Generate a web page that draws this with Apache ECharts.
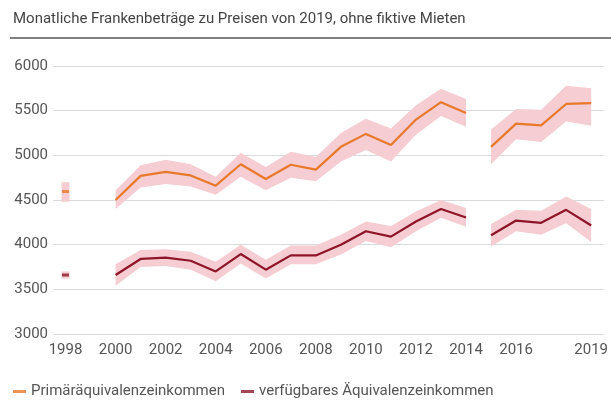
<!DOCTYPE html>
<html>
<head>
<meta charset="utf-8">
<script src="https://cdn.jsdelivr.net/npm/echarts@6/dist/echarts.min.js"></script>
<style>
  html, body { margin: 0; padding: 0; background: #fff; }
  #main { width: 611px; height: 407px; }
</style>
</head>
<body>
<div id="main"></div>
<script>
// Jahre auf der x-Achse
const years = []
for (let y = 1998; y <= 2019; y++) years.push(String(y))
const tickYears = ['1998', '2000', '2002', '2004', '2006', '2008', '2010', '2012', '2014', '2016', '2019']

// 1998 (einzelner Wert)
const prim1998 = 4595
const prim1998Low = 4480
const prim1998Up = 4700
const verf1998 = 3660
const verf1998Low = 3620
const verf1998Up = 3700

// Primäräquivalenzeinkommen 2000-2014
const primA = [4500, 4770, 4815, 4775, 4660, 4900, 4735, 4895, 4840, 5095, 5240, 5115, 5400, 5595, 5475]
const primLowA = [4400, 4640, 4680, 4650, 4560, 4760, 4610, 4750, 4710, 4930, 5060, 4930, 5230, 5440, 5320]
const primUpA = [4610, 4890, 4950, 4900, 4760, 5030, 4870, 5040, 4980, 5250, 5410, 5300, 5560, 5745, 5630]
// Primäräquivalenzeinkommen 2015-2019
const primB = [5095, 5355, 5335, 5575, 5585]
const primLowB = [4900, 5180, 5150, 5380, 5330]
const primUpB = [5290, 5520, 5510, 5780, 5750]

// verfügbares Äquivalenzeinkommen 2000-2014
const verfA = [3660, 3840, 3855, 3820, 3700, 3895, 3720, 3880, 3880, 4000, 4150, 4090, 4260, 4400, 4305]
const verfLowA = [3540, 3750, 3760, 3720, 3590, 3790, 3620, 3780, 3780, 3890, 4040, 3970, 4150, 4300, 4200]
const verfUpA = [3780, 3940, 3950, 3920, 3810, 4000, 3830, 3990, 3990, 4110, 4260, 4210, 4370, 4500, 4410]
// verfügbares Äquivalenzeinkommen 2015-2019
const verfB = [4105, 4270, 4245, 4390, 4215]
const verfLowB = [3980, 4150, 4110, 4240, 4030]
const verfUpB = [4230, 4390, 4380, 4540, 4400]

const orange = '#e8792a'
const darkRed = '#8e1528'
const pink = '#f5cdd3'
const primName = 'Primäräquivalenzeinkommen'
const verfName = 'verfügbares Äquivalenzeinkommen'

// Werte auf die ganze Jahresreihe legen
function place(start, values) {
  const out = years.map(() => null)
  values.forEach((v, i) => { out[years.indexOf(String(start + i))] = v })
  return out
}
function diff(up, low) {
  return up.map((u, i) => u - low[i])
}

function band(stack, start, low, up) {
  return [
    {
      type: 'line', stack: stack, data: place(start, low),
      symbol: 'none', lineStyle: { opacity: 0 }, silent: true, z: 1
    },
    {
      type: 'line', stack: stack, data: place(start, diff(up, low)),
      symbol: 'none', lineStyle: { opacity: 0 }, areaStyle: { color: pink, opacity: 1 }, silent: true, z: 1
    }
  ]
}
function line(name, color, start, values) {
  return {
    type: 'line', name: name, data: place(start, values), color: color,
    showSymbol: false, lineStyle: { width: 2.2, color: color }, z: 3
  }
}
function only1998(v) {
  return years.map(y => (y === '1998' ? v : null))
}

const myChart = echarts.init(document.getElementById('main'))
const option = {
  animation: false,
  title: {
    text: 'Monatliche Frankenbeträge zu Preisen von 2019, ohne fiktive Mieten',
    left: 8,
    top: 7,
    textStyle: { fontFamily: 'Roboto', fontSize: 15, fontWeight: 'normal', color: '#444' }
  },
  graphic: [
    {
      type: 'line',
      shape: { x1: 10, y1: 38, x2: 611, y2: 38 },
      style: { stroke: '#555', lineWidth: 1.5 }
    }
  ],
  legend: {
    data: [primName, verfName],
    left: 8,
    bottom: 3,
    icon: 'rect',
    itemWidth: 13,
    itemHeight: 3,
    itemGap: 16,
    textStyle: { fontFamily: 'Roboto', fontSize: 15, color: '#555' }
  },
  grid: {
    left: 53,
    right: 5,
    top: 66,
    bottom: 73
  },
  xAxis: {
    type: 'category',
    data: years,
    boundaryGap: true,
    axisLine: { show: false },
    axisTick: { show: false },
    axisLabel: {
      interval: (i, v) => tickYears.includes(v),
      margin: 9,
      fontFamily: 'Roboto',
      fontSize: 15,
      color: '#555'
    }
  },
  yAxis: {
    type: 'value',
    min: 3000,
    max: 6000,
    interval: 500,
    axisLine: { show: false },
    axisTick: { show: false },
    axisLabel: {
      margin: 5,
      fontFamily: 'Roboto',
      fontSize: 15,
      color: '#555',
      formatter: v => String(v)
    },
    splitLine: { lineStyle: { color: '#d9d9d9', width: 1 } }
  },
  series: [
    ...band('pA', 2000, primLowA, primUpA),
    ...band('pB', 2015, primLowB, primUpB),
    ...band('vA', 2000, verfLowA, verfUpA),
    ...band('vB', 2015, verfLowB, verfUpB),
    // 1998: Bereich als gestapelte Balken
    { type: 'bar', stack: 'b98', data: only1998(verf1998Low), barWidth: 8, itemStyle: { color: 'transparent' }, silent: true, z: 1 },
    { type: 'bar', stack: 'b98', data: only1998(verf1998Up - verf1998Low), barWidth: 8, itemStyle: { color: pink }, silent: true, z: 1 },
    { type: 'bar', stack: 'b98', data: only1998(prim1998Low - verf1998Up), barWidth: 8, itemStyle: { color: 'transparent' }, silent: true, z: 1 },
    { type: 'bar', stack: 'b98', data: only1998(prim1998Up - prim1998Low), barWidth: 8, itemStyle: { color: pink }, silent: true, z: 1 },
    {
      type: 'scatter', name: primName, data: only1998(prim1998), symbol: 'rect', symbolSize: [7, 3],
      itemStyle: { color: orange }, z: 4
    },
    {
      type: 'scatter', name: verfName, data: only1998(verf1998), symbol: 'rect', symbolSize: [7, 3],
      itemStyle: { color: darkRed }, z: 4
    },
    line(primName, orange, 2000, primA),
    line(primName, orange, 2015, primB),
    line(verfName, darkRed, 2000, verfA),
    line(verfName, darkRed, 2015, verfB)
  ]
}
myChart.setOption(option)
</script>
</body>
</html>
